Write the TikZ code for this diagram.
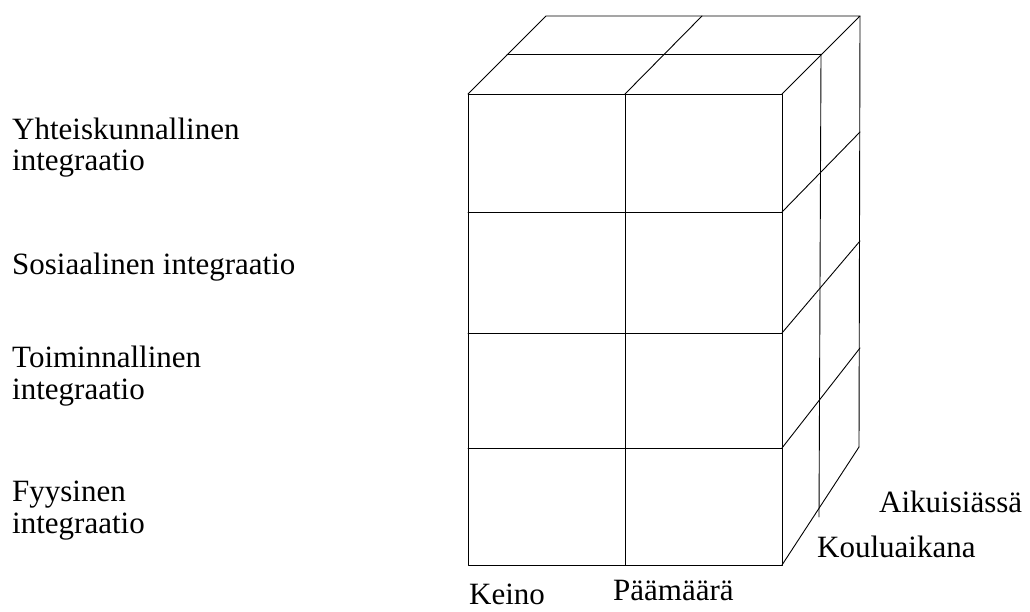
\documentclass[tikz,border=0pt]{standalone}
\usepackage{fontspec}
\setmainfont{Liberation Serif}
\begin{document}
\begin{tikzpicture}[x=1pt,y=-1pt,
  edge/.style={line width=0.9pt, line cap=round, line join=round},
  lab/.style={anchor=base west, inner sep=0pt, font=\fontsize{31}{31}\selectfont}]
\useasboundingbox (0,0) rectangle (1030,612);

% front face corners and row levels
\coordinate (FTL) at (468,94);
\coordinate (FTM) at (625,94);
\coordinate (FTR) at (782,94);
\coordinate (FBL) at (468,565);
\coordinate (FBM) at (625,565);
\coordinate (FBR) at (782,565);
\coordinate (R1L) at (468,212); \coordinate (R1R) at (782,212);
\coordinate (R2L) at (468,333); \coordinate (R2R) at (782,333);
\coordinate (R3L) at (468,448); \coordinate (R3R) at (782,448);

% top face: middle and back rows
\coordinate (MTL) at (507,54);
\coordinate (MTR) at (821,54);
\coordinate (BTL) at (546,16);
\coordinate (BTM) at (702,16);
\coordinate (BTR) at (860,16);

% right face: back edge points
\coordinate (B1) at (860,132);
\coordinate (B2) at (860,241);
\coordinate (B3) at (860,348);
\coordinate (B4) at (859,447);
\coordinate (MB) at (819,517);

% front face
\draw[edge] (FTL) rectangle (FBR);
\draw[edge] (FTM) -- (FBM);
\draw[edge] (R1L) -- (R1R);
\draw[edge] (R2L) -- (R2R);
\draw[edge] (R3L) -- (R3R);

% top face
\draw[edge] (FTL) -- (BTL) -- (BTR) -- (FTR);
\draw[edge] (FTM) -- (BTM);
\draw[edge] (MTL) -- (MTR);

% right face
\draw[edge] (BTR) -- (B4);
\draw[edge] (MTR) -- (MB);
\draw[edge] (R1R) -- (B1);
\draw[edge] (R2R) -- (B2);
\draw[edge] (R3R) -- (B3);
\draw[edge] (FBR) -- (B4);

% level labels
\node[lab] (l1a) at (12,140) {Yhteiskunnallinen};
\node[lab] (l1b) at (12,171) {integraatio};
\node[lab] (l2)  at (12,275) {Sosiaalinen integraatio};
\node[lab] (l3a) at (12,367) {Toiminnallinen};
\node[lab] (l3b) at (12,399) {integraatio};
\node[lab] (l4a) at (12,501) {Fyysinen};
\node[lab] (l4b) at (12,533) {integraatio};

% column labels
\node[lab] (c1) at (469,604) {Keino};
\node[lab] (c2) at (613,600) {Päämäärä};

% depth labels
\node[lab] (d1) at (879,512) {Aikuisiässä};
\node[lab] (d2) at (817,557) {Kouluaikana};
\end{tikzpicture}
\end{document}
